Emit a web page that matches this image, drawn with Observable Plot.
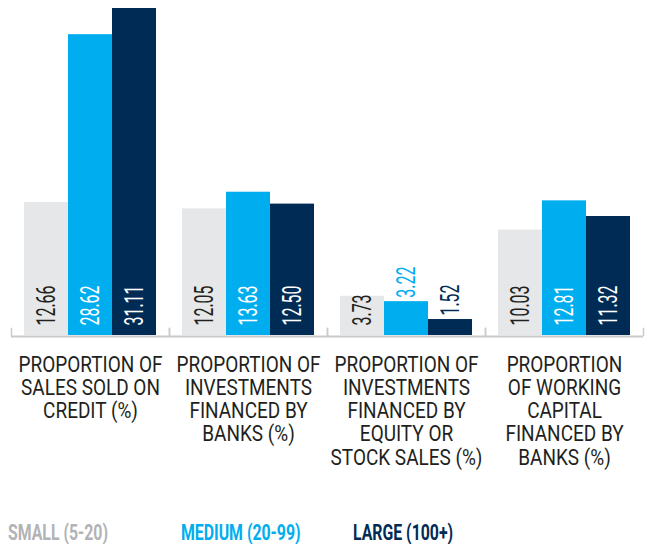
<!DOCTYPE html>
<html><head><meta charset="utf-8">
<script src="https://cdn.jsdelivr.net/npm/d3@7"></script>
<script src="https://cdn.jsdelivr.net/npm/@observablehq/plot@0.6"></script>
<style>
html,body{margin:0;padding:0;background:#fff;}
#chart{width:652px;}
.legend{position:relative;width:652px;height:44px;font-family:Roboto,sans-serif;font-weight:700;font-size:22px;line-height:24px;}
.legend span{position:absolute;top:21px;white-space:nowrap;transform-origin:0 50%;}
</style></head><body><div id="chart"></div><div class="legend" id="legend"></div><script>
const categories = [
  "PROPORTION OF\nSALES SOLD ON\nCREDIT (%)",
  "PROPORTION OF\nINVESTMENTS\nFINANCED BY\nBANKS (%)",
  "PROPORTION OF\nINVESTMENTS\nFINANCED BY\nEQUITY OR\nSTOCK SALES (%)",
  "PROPORTION\nOF WORKING\nCAPITAL\nFINANCED BY\nBANKS (%)"
];
const seriesNames = ["SMALL (5-20)", "MEDIUM (20-99)", "LARGE (100+)"];
const smallValues = [12.66, 12.05, 3.73, 10.03];
const mediumValues = [28.62, 13.63, 3.22, 12.81];
const largeValues = [31.11, 12.50, 1.52, 11.32];
const seriesColors = ["#e6e7e8", "#00aeef", "#002b54"];
const legendColors = ["#b1b3b6", "#00aeef", "#002b54"];

const valuesBySeries = [smallValues, mediumValues, largeValues];
const rows = [];
seriesNames.forEach((s, si) => categories.forEach((c, ci) =>
  rows.push({category: c, series: s, value: valuesBySeries[si][ci], si})));

const LABEL_MIN = 3.5; // shorter bars get their label above the bar
const fmt = d3.format(".2f");
const insideDark = rows.filter(d => d.value >= LABEL_MIN && d.si === 0);
const insideLight = rows.filter(d => d.value >= LABEL_MIN && d.si !== 0);
const outside = rows.filter(d => d.value < LABEL_MIN);

const valFont = {fontSize: 25.5, fontWeight: 400, fontFamily: "Roboto"};
const gray = "#c9cacc";

const plot = Plot.plot({
  width: 652, height: 500,
  marginTop: 8, marginBottom: 165, marginLeft: 10, marginRight: 9,
  style: {fontFamily: "Roboto", background: "#fff"},
  fx: {domain: categories, padding: 0, label: null},
  x: {domain: seriesNames, paddingInner: 0, paddingOuter: 0.26, axis: null},
  y: {domain: [0, d3.max(rows, d => d.value)], axis: null},
  color: {domain: seriesNames, range: seriesColors},
  marks: [
    Plot.barY(rows, {fx: "category", x: "series", y: "value", fill: "series"}),
    Plot.ruleY([0], {stroke: gray, strokeWidth: 2, dy: 1}),
    Plot.frame({anchor: "left", stroke: gray, strokeWidth: 1.5, insetTop: 320}),
    Plot.frame({anchor: "right", stroke: gray, strokeWidth: 1.5, insetTop: 320}),
    Plot.text(insideDark, {fx: "category", x: "series", y: 0, text: d => fmt(d.value), rotate: -90,
      textAnchor: "start", lineAnchor: "middle", dy: -10, fill: "#231f20", ...valFont}),
    Plot.text(insideLight, {fx: "category", x: "series", y: 0, text: d => fmt(d.value), rotate: -90,
      textAnchor: "start", lineAnchor: "middle", dy: -10, fill: "#ffffff", ...valFont}),
    Plot.text(outside, {fx: "category", x: "series", y: "value", text: d => fmt(d.value), rotate: -90,
      textAnchor: "start", lineAnchor: "middle", dy: -4, fill: "series", ...valFont}),
    Plot.axisFx({anchor: "bottom", tickSize: 0, tickPadding: 19.5, fontSize: 22, lineHeight: 1.057,
      fill: "#231f20", label: null})
  ]
});
document.getElementById("chart").appendChild(plot);

// condense text to match the narrow typeface of the original
const ctx = document.createElement("canvas").getContext("2d");
function measure(text, font) { ctx.font = font; return ctx.measureText(text).width; }
const catScale = 144 / measure("PROPORTION OF", "400 22px Roboto");
const valScale = 40 / measure("12.66", `${valFont.fontWeight} ${valFont.fontSize}px Roboto`);
plot.querySelectorAll("text").forEach(t => {
  const tr = t.getAttribute("transform");
  if (!tr) return;
  if (tr.includes("rotate(-90)")) t.setAttribute("transform", tr + ` scale(${valScale},1)`);
});
plot.querySelectorAll('g[aria-label^="fx-axis"] text').forEach(t => {
  t.setAttribute("transform", (t.getAttribute("transform") || "") + ` scale(${catScale},1)`);
});

// legend
const legendScale = 100 / measure(seriesNames[0], "700 22px Roboto");
const legend = document.getElementById("legend");
seriesNames.forEach((s, i) => {
  const span = document.createElement("span");
  span.textContent = s;
  span.style.left = (8 + i * 172.5) + "px";
  span.style.color = legendColors[i];
  span.style.transform = `scaleX(${legendScale})`;
  legend.appendChild(span);
});
</script></body></html>
